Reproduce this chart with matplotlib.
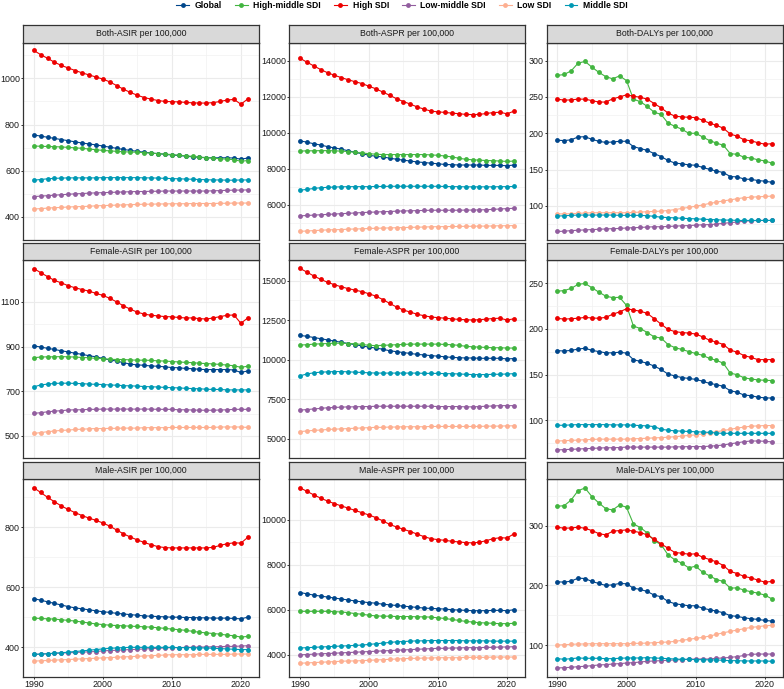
import numpy as np
import matplotlib.pyplot as plt
from matplotlib.lines import Line2D

YEARS = list(range(1990, 2022))

SERIES = ["Global", "High-middle SDI", "High SDI", "Low-middle SDI", "Low SDI", "Middle SDI"]
COLORS = {
    "Global": "#00468B",
    "High-middle SDI": "#42B540",
    "High SDI": "#ED0000",
    "Low-middle SDI": "#925E9F",
    "Low SDI": "#FDAF91",
    "Middle SDI": "#0099B4",
}

both_asir = {
    "Global": [755, 750, 745, 740, 735, 730, 725, 720, 716, 712, 707, 702, 697, 692, 688, 684,
               680, 677, 674, 671, 668, 666, 663, 660, 658, 656, 656, 656, 656, 655, 650, 655],
    "High-middle SDI": [707, 706, 705, 704, 703, 701, 699, 697, 694, 691, 688, 686, 684, 682, 681, 680,
                        678, 676, 674, 672, 670, 667, 665, 662, 659, 657, 654, 652, 650, 648, 641, 644],
    "High SDI": [1121, 1103, 1087, 1070, 1056, 1045, 1034, 1024, 1015, 1006, 997, 985, 969, 953, 939, 927,
                 917, 910, 904, 900, 899, 898, 896, 894, 893, 893, 895, 900, 906, 909, 888, 911],
    "Low-middle SDI": [488, 490, 492, 494, 496, 498, 500, 501, 503, 504, 505, 506, 507, 508, 509, 510,
                       510, 511, 511, 512, 512, 512, 512, 512, 512, 512, 513, 514, 515, 516, 516, 517],
    "Low SDI": [434, 436, 438, 440, 441, 443, 444, 445, 446, 448, 449, 450, 451, 452, 453, 454,
                455, 455, 456, 456, 457, 457, 457, 458, 458, 458, 458, 459, 459, 460, 460, 460],
    "Middle SDI": [559, 562, 565, 567, 568, 569, 569, 569, 569, 569, 570, 570, 570, 570, 570, 570,
                   569, 569, 568, 567, 566, 565, 564, 563, 562, 561, 560, 560, 559, 559, 560, 560],
}

both_aspr = {
    "Global": [9540, 9470, 9380, 9310, 9220, 9150, 9080, 8990, 8900, 8830, 8740, 8690, 8650, 8580, 8520, 8470,
               8420, 8370, 8340, 8300, 8270, 8230, 8220, 8200, 8200, 8200, 8200, 8180, 8180, 8180, 8160, 8200],
    "High-middle SDI": [8970, 8990, 8990, 9000, 9000, 8990, 8970, 8950, 8900, 8870, 8830, 8800, 8780, 8780, 8780, 8780,
                        8780, 8780, 8780, 8760, 8740, 8700, 8650, 8580, 8520, 8490, 8470, 8450, 8440, 8420, 8400, 8420],
    "High SDI": [14125, 13910, 13700, 13500, 13320, 13180, 13050, 12930, 12820, 12720, 12570, 12430, 12250, 12070, 11880, 11720,
                 11580, 11420, 11300, 11190, 11150, 11120, 11080, 11050, 11010, 11000, 11010, 11060, 11110, 11130, 11040, 11190],
    "Low-middle SDI": [5380, 5400, 5420, 5440, 5460, 5480, 5500, 5520, 5540, 5560, 5580, 5590, 5610, 5620, 5640, 5650,
                       5660, 5670, 5680, 5690, 5690, 5690, 5690, 5690, 5700, 5700, 5710, 5720, 5740, 5760, 5780, 5800],
    "Low SDI": [4520, 4540, 4560, 4580, 4600, 4610, 4620, 4640, 4650, 4660, 4680, 4690, 4700, 4710, 4720, 4730,
                4740, 4750, 4760, 4770, 4780, 4780, 4790, 4790, 4800, 4800, 4810, 4810, 4820, 4830, 4830, 4840],
    "Middle SDI": [6800, 6850, 6900, 6940, 6960, 6980, 6990, 7000, 7000, 7000, 7000, 7010, 7010, 7020, 7020, 7020,
                   7020, 7020, 7020, 7020, 7020, 7010, 7000, 7000, 6990, 6990, 6990, 6990, 6990, 7000, 7000, 7010],
}

both_dalys = {
    "Global": [190.4, 190, 191, 195, 195.2, 191.7, 189, 187.4, 188, 189, 189, 181.7, 179, 176.5, 172, 168,
               162.6, 159, 158, 156.5, 156, 153, 150.4, 148, 146, 140.4, 140, 137, 136.5, 135, 134, 132.6],
    "High-middle SDI": [279.6, 281, 286, 296.5, 299, 291, 284, 278, 275, 279, 272.6, 247, 243.5, 237, 229, 226,
                        214, 209.6, 205.6, 200, 200, 195, 190, 186.5, 183.5, 172, 171, 167, 166, 163.5, 162, 159],
    "High SDI": [247, 245.6, 246, 247, 247, 245, 243, 243, 247.4, 250, 253, 251, 249.6, 247, 241, 235,
                 228, 223.5, 222.6, 222, 221.7, 218, 214, 211, 207, 199, 196, 191, 189.6, 187, 185, 185.6],
    "Low-middle SDI": [64.8, 65.2, 66, 66.5, 67, 67.4, 67.8, 68.3, 68.7, 69, 69.6, 70, 70.4, 70.9, 71.3, 71.3,
                       71.7, 72.2, 72.6, 73, 73.5, 74, 74.3, 75, 76, 77, 77.8, 79, 79.5, 80, 80, 80],
    "Low SDI": [89, 89, 89.3, 89.8, 90.2, 90.6, 90.6, 90.6, 90.6, 90.6, 90.6, 91, 91.5, 92, 92.4, 92.8,
                93.7, 95, 96.5, 98, 99.6, 101.3, 103.5, 105, 107, 108.3, 110, 111.3, 112, 112.6, 113, 113.5],
    "Middle SDI": [86, 86.5, 87, 87.4, 87.4, 87.4, 87.4, 87.4, 87.4, 87, 87, 87, 87, 86.5, 85.7, 84.4,
                   84, 83.5, 83, 82.6, 82.2, 81.7, 81.3, 81, 80.5, 80.5, 80, 80, 80, 80, 80, 80],
}

female_asir = {
    "Global": [903, 898, 892, 887, 881, 876, 870, 865, 859, 854, 847, 840, 835, 828, 821, 818,
               816, 813, 812, 809, 806, 805, 802, 801, 798, 797, 797, 797, 797, 795, 784, 791],
    "High-middle SDI": [850, 853, 854, 854, 855, 854, 853, 851, 850, 847, 846, 843, 842, 842, 840, 839,
                        839, 838, 836, 835, 833, 831, 829, 828, 825, 824, 822, 820, 817, 814, 807, 812],
    "High SDI": [1249, 1231, 1213, 1196, 1185, 1172, 1163, 1155, 1148, 1138, 1129, 1116, 1100, 1082, 1067, 1054,
                 1045, 1040, 1037, 1034, 1033, 1030, 1028, 1028, 1025, 1023, 1028, 1034, 1040, 1041, 1004, 1028],
    "Low-middle SDI": [601, 604, 608, 611, 613, 616, 617, 617, 619, 619, 620, 620, 620, 620, 620, 620,
                       620, 620, 619, 619, 619, 617, 617, 616, 615, 615, 615, 616, 617, 619, 619, 619],
    "Low SDI": [511, 515, 519, 522, 525, 526, 529, 530, 532, 533, 533, 534, 534, 535, 535, 535,
                537, 537, 537, 537, 538, 538, 538, 538, 538, 538, 538, 540, 540, 540, 540, 538],
    "Middle SDI": [720, 728, 732, 735, 736, 736, 735, 734, 732, 731, 730, 728, 727, 725, 724, 723,
                   721, 720, 719, 717, 716, 715, 713, 712, 711, 709, 708, 708, 706, 706, 706, 706],
}

female_aspr = {
    "Global": [11527, 11470, 11394, 11318, 11241, 11165, 11089, 11013, 10936, 10860, 10784, 10726, 10650, 10554, 10497, 10440,
               10383, 10325, 10287, 10249, 10211, 10173, 10135, 10116, 10097, 10097, 10078, 10078, 10078, 10078, 10040, 10059],
    "High-middle SDI": [10917, 10936, 10974, 10993, 11013, 11032, 11032, 11013, 10993, 10955, 10898, 10879, 10898, 10917, 10936, 10955,
                        10974, 10974, 10974, 10974, 10974, 10955, 10936, 10898, 10840, 10802, 10784, 10764, 10745, 10745, 10726, 10726],
    "High SDI": [15763, 15534, 15286, 15076, 14885, 14733, 14600, 14485, 14390, 14294, 14160, 14008, 13798, 13550, 13321, 13130,
                 12997, 12863, 12768, 12690, 12650, 12614, 12576, 12538, 12520, 12500, 12520, 12557, 12595, 12614, 12500, 12576],
    "Low-middle SDI": [6796, 6834, 6872, 6910, 6948, 6967, 6986, 7005, 7005, 7024, 7024, 7043, 7043, 7043, 7043, 7043,
                       7043, 7043, 7043, 7043, 7024, 7024, 7024, 7024, 7005, 7005, 7024, 7043, 7062, 7082, 7082, 7082],
    "Low SDI": [5441, 5479, 5517, 5536, 5574, 5593, 5612, 5632, 5651, 5670, 5689, 5708, 5708, 5727, 5727, 5746,
                5746, 5746, 5746, 5765, 5765, 5765, 5765, 5765, 5765, 5765, 5765, 5784, 5784, 5784, 5803, 5803],
    "Middle SDI": [8970, 9085, 9161, 9200, 9219, 9238, 9238, 9219, 9200, 9180, 9161, 9142, 9142, 9142, 9142, 9142,
                   9142, 9142, 9123, 9123, 9123, 9104, 9104, 9085, 9066, 9047, 9047, 9047, 9066, 9066, 9085, 9104],
}

female_dalys = {
    "Global": [176.2, 175.8, 176.5, 177.9, 178.9, 176.5, 175.2, 173.8, 173.8, 174.5, 173.5, 166.4, 164.4, 162.4, 159.3, 155.6,
               150.6, 148.5, 146.8, 145.8, 144.8, 142.8, 140.4, 139.1, 137.1, 132.4, 130.7, 127.6, 127, 125.3, 124.6, 124.3],
    "High-middle SDI": [241.2, 241.9, 244.3, 248.7, 249.7, 245, 240.2, 235.8, 234.2, 234.5, 225.7, 203.1, 200.4, 196, 191.3, 190,
                        182.9, 179.5, 177.5, 175.2, 173.1, 171.1, 167.7, 165.7, 162.4, 151.6, 149.9, 146.5, 145.2, 144.2, 143.8, 143.5],
    "High SDI": [211.6, 210.6, 211.2, 211.6, 212.6, 211.9, 211.6, 212.6, 216, 218.6, 222, 220.7, 219.3, 217, 211.2, 205.2,
                 199.4, 197, 196, 195.4, 194.4, 191.3, 187.6, 185.6, 182.9, 176.8, 174.5, 170.8, 168.8, 166.4, 166.4, 166.4],
    "Low-middle SDI": [67.6, 68, 68.3, 68.6, 69, 69.3, 69.7, 70, 70, 70.3, 70.7, 70.7, 70.7, 70.7, 70.7, 70.7,
                       70.7, 71, 71, 71.3, 71.3, 71.3, 71.7, 72.3, 73, 74.4, 75.4, 76.7, 77.4, 77.4, 77.1, 76.4],
    "Low SDI": [77.4, 77.7, 78.1, 78.4, 78.8, 79.1, 79.4, 79.4, 79.4, 79.4, 79.4, 79.8, 80.1, 80.4, 80.8, 81.1,
                81.5, 82.1, 82.8, 83.5, 84.1, 85.2, 86.5, 87.5, 88.9, 90.2, 91.6, 92.6, 93.6, 93.9, 94.3, 94.3],
    "Middle SDI": [94.6, 94.6, 95, 95.3, 95.3, 95.3, 95.3, 95.3, 95, 95, 95, 94.6, 94.3, 93.9, 93.2, 90.2,
                   89.2, 88.5, 88.2, 87.8, 87.5, 87.2, 86.8, 86.1, 85.8, 85.8, 85.8, 85.8, 85.8, 85.8, 85.8, 85.8],
}

male_asir = {
    "Global": [561.5, 556.2, 550.8, 545.5, 540.1, 534.8, 530.5, 527.3, 524.1, 520.9, 517.6, 515.5, 512.3, 510.2, 508, 505.9,
               503.7, 502.7, 501.6, 500.5, 499.5, 499.5, 498.4, 498.4, 497.3, 497.3, 496.3, 496.3, 496.3, 495.2, 494.1, 499.5],
    "High-middle SDI": [496.3, 495.2, 494.1, 493.1, 490.9, 488.8, 486.6, 483.4, 480.2, 477, 474.9, 472.7, 471.7, 470.6, 469.5, 468.5,
                        467.4, 466.3, 464.2, 462.1, 459.9, 457.8, 455.6, 452.4, 449.2, 447.1, 445, 442.8, 439.6, 437.4, 433.2, 435.3],
    "High SDI": [931.5, 915.5, 899.5, 884.5, 870.6, 858.8, 848.1, 838.5, 830, 822.5, 814, 803.2, 790.4, 777.5, 766.8, 757.2,
                 748.7, 741.2, 734.8, 731.6, 730.5, 730.5, 730.5, 730.5, 730.5, 730.5, 732.6, 739, 744.4, 747.6, 746.5, 765.8],
    "Low-middle SDI": [375.4, 376.5, 377.5, 378.6, 379.7, 380.8, 381.8, 382.9, 384, 385, 387.2, 388.2, 389.3, 390.4, 391.4, 392.5,
                       393.6, 394.6, 395.7, 396.8, 397.9, 397.9, 398.9, 398.9, 400, 400, 401.1, 401.1, 402.1, 402.1, 403.2, 404.3],
    "Low SDI": [353, 354, 355.1, 356.2, 357.2, 358.3, 359.4, 360.4, 361.5, 362.6, 363.6, 364.7, 365.8, 366.9, 367.9, 369,
                370, 371.1, 372.2, 373.3, 374.3, 374.3, 374.3, 374.3, 375.4, 375.4, 375.4, 375.4, 375.4, 376.5, 376.5, 376.5],
    "Middle SDI": [375.4, 376.5, 377.5, 379.7, 380.8, 382.9, 385, 387.2, 389.3, 391.4, 393.6, 395.7, 396.8, 397.9, 398.9, 398.9,
                   398.9, 398.9, 398.9, 398.9, 398.9, 397.9, 397.9, 397.9, 396.8, 396.8, 395.7, 394.6, 393.6, 392.5, 391.4, 391.4],
}

male_aspr = {
    "Global": [6756, 6698, 6640, 6597, 6554, 6510, 6467, 6424, 6381, 6337, 6308, 6280, 6236, 6208, 6179, 6150,
               6121, 6092, 6063, 6049, 6035, 6020, 5991, 5977, 5962, 5948, 5948, 5948, 5962, 5962, 5948, 5991],
    "High-middle SDI": [5919, 5919, 5919, 5919, 5919, 5905, 5890, 5861, 5818, 5789, 5746, 5717, 5703, 5703, 5688, 5688,
                        5688, 5674, 5674, 5660, 5631, 5602, 5559, 5516, 5473, 5443, 5414, 5400, 5386, 5372, 5372, 5386],
    "High SDI": [11413, 11255, 11096, 10952, 10822, 10707, 10606, 10505, 10404, 10303, 10202, 10087, 9942, 9784, 9668, 9567,
                 9466, 9351, 9236, 9149, 9106, 9077, 9034, 9005, 8976, 8962, 8991, 9063, 9149, 9192, 9178, 9366],
    "Low-middle SDI": [3986, 4000, 4015, 4029, 4044, 4058, 4073, 4087, 4102, 4116, 4131, 4145, 4160, 4174, 4188, 4203,
                       4217, 4232, 4246, 4260, 4275, 4275, 4290, 4290, 4304, 4304, 4304, 4318, 4318, 4333, 4333, 4347],
    "Low SDI": [3612, 3626, 3641, 3655, 3670, 3684, 3699, 3713, 3713, 3727, 3742, 3756, 3771, 3785, 3800, 3814,
                3829, 3829, 3843, 3843, 3857, 3857, 3857, 3857, 3872, 3872, 3872, 3872, 3886, 3886, 3886, 3886],
    "Middle SDI": [4290, 4304, 4318, 4333, 4347, 4362, 4376, 4390, 4405, 4419, 4448, 4477, 4506, 4535, 4564, 4578,
                   4593, 4607, 4607, 4621, 4621, 4621, 4621, 4621, 4607, 4607, 4607, 4607, 4593, 4593, 4593, 4593],
}

male_dalys = {
    "Global": [206.1, 205.6, 207.3, 212.3, 211.7, 206.7, 203.4, 200, 201.1, 203.4, 202.8, 195.5, 193.3, 189.9, 183.8, 181,
               173.2, 169.3, 167.6, 165.9, 165.9, 162, 159.2, 157, 154.2, 149.2, 148.1, 145.8, 144.1, 143, 141.3, 140.2],
    "High-middle SDI": [333, 334, 343.6, 359.2, 363.7, 349.2, 338.6, 329, 326.8, 335.2, 331.3, 303.4, 297.2, 288.3, 274.9, 268.7,
                        251.4, 243, 237.4, 229.6, 232.4, 222.3, 216.2, 210, 206.7, 195.5, 196, 192.2, 189.4, 187.1, 183.8, 177.6],
    "High SDI": [297.8, 296.1, 296.6, 297.8, 296.1, 292.2, 287.1, 284.9, 291.1, 292.2, 293.3, 291.1, 288.8, 284.9, 277.7, 269.8,
                 262.6, 255.3, 254.2, 252.5, 253.1, 247.5, 243.6, 239.7, 233.5, 223.5, 220.1, 215.1, 212.8, 208.9, 205.6, 206.7],
    "Low-middle SDI": [61.4, 62, 62.5, 63.7, 64.2, 65.3, 66.5, 67, 68.1, 68.7, 69.8, 70.3, 71.5, 72.6, 73.2, 73.7,
                       74.3, 74.9, 75.4, 76, 76.5, 76.5, 76.5, 77.7, 78.2, 79.3, 80.4, 82.6, 84.3, 84.8, 84.8, 84.8],
    "Low SDI": [100, 100.5, 101.1, 101.7, 101.7, 102.2, 102.2, 102.2, 102.2, 102.2, 102.2, 102.8, 102.8, 103.3, 103.9, 104.5,
                105, 106.1, 107.8, 109.5, 111.2, 112.8, 115, 117.8, 120.6, 122.9, 125.1, 127.4, 129.6, 130.7, 132.4, 132.9],
    "Middle SDI": [77.1, 76, 77.1, 78.2, 77.7, 77.7, 77.7, 77.1, 77.1, 77.7, 78.2, 78.2, 78.2, 78.8, 78.2, 77.7,
                   77.1, 76.5, 76, 76, 75.4, 75.4, 74.9, 74.9, 74.3, 73.7, 73.7, 73.2, 73.2, 73.2, 73.2, 72.6],
}

PANELS = [
    ("Both-ASIR per 100,000", both_asir, [400, 600, 800, 1000]),
    ("Both-ASPR per 100,000", both_aspr, [6000, 8000, 10000, 12000, 14000]),
    ("Both-DALYs per 100,000", both_dalys, [100, 150, 200, 250, 300]),
    ("Female-ASIR per 100,000", female_asir, [500, 700, 900, 1100]),
    ("Female-ASPR per 100,000", female_aspr, [5000, 7500, 10000, 12500, 15000]),
    ("Female-DALYs per 100,000", female_dalys, [100, 150, 200, 250]),
    ("Male-ASIR per 100,000", male_asir, [400, 600, 800]),
    ("Male-ASPR per 100,000", male_aspr, [4000, 6000, 8000, 10000]),
    ("Male-DALYs per 100,000", male_dalys, [100, 200, 300]),
]

X_TICKS = [1990, 2000, 2010, 2020]

W, H = 784, 689
COL_X = [(23.0, 258.5), (289.3, 524.6), (546.6, 782.5)]
ROW_Y = [(42.5, 240.0), (260.3, 458.3), (479.0, 677.0)]
STRIP_H = 17.5
PX = 0.72  # points per pixel at dpi 100

plt.rcParams["font.family"] = ["Liberation Sans", "DejaVu Sans"]


def px_axes(fig, left, top, right, bottom, **kw):
    return fig.add_axes([left / W, 1 - bottom / H, (right - left) / W, (bottom - top) / H], **kw)


def main() -> None:
    fig = plt.figure(figsize=(W / 100, H / 100), dpi=100)
    fig.patch.set_facecolor("white")

    for i, (title, data, yticks) in enumerate(PANELS):
        row, col = divmod(i, 3)
        left, right = COL_X[col]
        top, bottom = ROW_Y[row]
        ax = px_axes(fig, left, top, right, bottom)

        for name in SERIES:
            ax.plot(YEARS, data[name], color=COLORS[name], lw=0.8, marker="o",
                    markersize=3.5, markeredgewidth=0, zorder=3)

        vals = np.concatenate([np.asarray(data[n], dtype=float) for n in SERIES])
        lo, hi = vals.min(), vals.max()
        pad = (hi - lo) * 0.05
        ax.set_ylim(lo - pad, hi + pad)
        ax.set_xlim(1990 - 31 * 0.05, 2021 + 31 * 0.05)

        ax.set_yticks(yticks)
        step = yticks[1] - yticks[0]
        minor = [t - step / 2 for t in yticks] + [yticks[-1] + step / 2]
        ax.set_yticks(minor, minor=True)
        ax.set_xticks(X_TICKS)
        ax.set_xticks([1995, 2005, 2015], minor=True)

        ax.grid(True, which="major", color="#EBEBEB", lw=0.8, zorder=0)
        ax.grid(True, which="minor", color="#F2F2F2", lw=0.5, zorder=0)
        ax.set_axisbelow(True)

        for sp in ax.spines.values():
            sp.set_color("#333333")
            sp.set_linewidth(0.9)

        ax.tick_params(which="minor", length=0)
        ax.tick_params(which="major", length=2 * PX, width=0.7, color="#333333",
                       labelsize=6.4, labelcolor="#1A1A1A", pad=1 * PX)
        if row < 2:
            ax.tick_params(axis="x", labelbottom=False, length=0)

        strip = px_axes(fig, left, top - STRIP_H, right, top)
        strip.set_facecolor("#D9D9D9")
        strip.set_xticks([])
        strip.set_yticks([])
        for sp in strip.spines.values():
            sp.set_color("#333333")
            sp.set_linewidth(0.9)
        strip.text(0.5, 0.5, title, ha="center", va="center", fontsize=6.3, color="#1A1A1A")

    handles = [Line2D([0], [0], color=COLORS[n], lw=0.8, marker="o", markersize=3.5,
                      markeredgewidth=0) for n in SERIES]
    fig.legend(handles, SERIES, loc="center", bbox_to_anchor=(402 / W, 1 - 5.5 / H), ncol=6,
               frameon=False, prop={"size": 6.2, "weight": "bold"}, handlelength=1.5,
               handletextpad=0.65, columnspacing=1.5, borderaxespad=0, borderpad=0)

    fig.savefig("out.png", dpi=100)
    plt.close(fig)


if __name__ == "__main__":
    main()
